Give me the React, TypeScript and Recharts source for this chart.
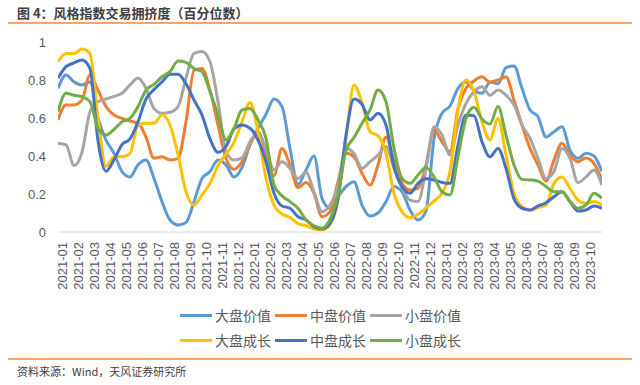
import React from "react";
import { LineChart, Line, XAxis, YAxis } from "recharts";

const months = [
  "2021-01","2021-02","2021-03","2021-04","2021-05","2021-06","2021-07","2021-08","2021-09","2021-10","2021-11","2021-12",
  "2022-01","2022-02","2022-03","2022-04","2022-05","2022-06","2022-07","2022-08","2022-09","2022-10","2022-11","2022-12",
  "2023-01","2023-02","2023-03","2023-04","2023-05","2023-06","2023-07","2023-08","2023-09","2023-10",
];

const yTicks = [0, 0.2, 0.4, 0.6, 0.8, 1];

// half-month samples, starting just before 2021-01
const startOffset = -0.3;
const step = 0.5;

const largeValue = [
  0.756,0.826,0.79,0.774,0.79,0.6,0.484,0.414,0.318,0.29,0.353,0.379,0.282,0.16,0.063,0.037,0.05,0.16,0.282,0.318,
  0.379,0.353,0.29,0.34,0.46,0.546,0.62,0.7,0.66,0.44,0.25,0.326,0.4,0.177,0.125,0.186,0.239,0.265,0.142,0.084,
  0.1,0.16,0.239,0.212,0.116,0.063,0.11,0.49,0.625,0.663,0.756,0.79,0.744,0.73,0.79,0.78,0.865,0.874,0.756,0.642,
  0.607,0.5,0.528,0.554,0.43,0.388,0.414,0.4,0.318,
];
const midValue = [
  0.59,0.668,0.668,0.695,0.826,0.747,0.66,0.616,0.598,0.584,0.572,0.5,0.388,0.396,0.379,0.388,0.58,0.85,0.86,0.747,
  0.563,0.388,0.33,0.37,0.46,0.528,0.414,0.296,0.44,0.353,0.233,0.26,0.204,0.08,0.107,0.265,0.414,0.396,0.309,0.247,
  0.353,0.5,0.37,0.256,0.221,0.23,0.353,0.537,0.475,0.423,0.65,0.756,0.795,0.817,0.788,0.8,0.817,0.695,0.563,0.44,
  0.353,0.268,0.379,0.467,0.405,0.37,0.39,0.361,0.274,
];
const smallValue = [
  0.467,0.458,0.35,0.42,0.633,0.686,0.7,0.714,0.73,0.774,0.81,0.756,0.65,0.625,0.63,0.66,0.81,0.94,0.95,0.896,
  0.686,0.423,0.379,0.39,0.475,0.52,0.44,0.326,0.37,0.335,0.282,0.314,0.212,0.107,0.142,0.247,0.44,0.414,0.335,0.37,
  0.405,0.45,0.335,0.233,0.168,0.16,0.33,0.554,0.51,0.405,0.563,0.677,0.739,0.765,0.72,0.747,0.72,0.668,0.563,0.493,
  0.388,0.282,0.318,0.44,0.388,0.26,0.29,0.326,0.247,
];
const largeGrowth = [
  0.896,0.94,0.94,0.963,0.94,0.6,0.345,0.396,0.396,0.414,0.563,0.572,0.572,0.616,0.563,0.407,0.212,0.142,0.195,0.256,
  0.35,0.41,0.47,0.58,0.682,0.528,0.282,0.142,0.095,0.077,0.044,0.033,0.016,0.012,0.037,0.168,0.49,0.774,0.68,0.528,
  0.507,0.414,0.204,0.107,0.075,0.093,0.128,0.163,0.204,0.318,0.642,0.8,0.739,0.58,0.484,0.598,0.405,0.204,0.133,0.116,
  0.128,0.142,0.256,0.29,0.23,0.168,0.151,0.16,0.142,
];
const midGrowth = [
  0.81,0.87,0.89,0.905,0.86,0.48,0.32,0.38,0.46,0.49,0.58,0.7,0.75,0.79,0.83,0.83,0.78,0.695,0.616,0.49,
  0.42,0.45,0.542,0.563,0.546,0.484,0.37,0.204,0.137,0.125,0.08,0.063,0.028,0.016,0.046,0.177,0.51,0.7,0.672,0.59,
  0.625,0.563,0.344,0.239,0.204,0.256,0.28,0.274,0.261,0.256,0.458,0.616,0.612,0.475,0.396,0.44,0.335,0.174,0.125,0.116,
  0.137,0.154,0.186,0.212,0.16,0.11,0.116,0.137,0.125,
];
const smallGrowth = [
  0.633,0.73,0.72,0.712,0.686,0.546,0.51,0.54,0.58,0.598,0.66,0.747,0.777,0.817,0.844,0.9,0.893,0.86,0.844,0.739,
  0.616,0.484,0.546,0.642,0.65,0.59,0.493,0.247,0.19,0.16,0.125,0.063,0.032,0.02,0.068,0.195,0.43,0.497,0.572,0.642,
  0.747,0.686,0.44,0.282,0.256,0.3,0.339,0.29,0.212,0.195,0.396,0.598,0.656,0.595,0.568,0.66,0.51,0.353,0.277,0.274,
  0.268,0.239,0.212,0.212,0.16,0.125,0.142,0.204,0.177,
];

const seriesNames = ["大盘价值", "中盘价值", "小盘价值", "大盘成长", "中盘成长", "小盘成长"];
const seriesColors = ["#5B9BD5", "#ED7D31", "#A5A5A5", "#FFC000", "#4472C4", "#70AD47"];
const seriesValues = [largeValue, midValue, smallValue, largeGrowth, midGrowth, smallGrowth];

const data = largeValue.map((_, i) => {
  const row: Record<string, number> = { x: startOffset + i * step };
  seriesValues.forEach((arr, k) => {
    row["s" + k] = arr[i];
  });
  return row;
});

const tickFont = "'Liberation Sans', 'Noto Sans CJK SC', sans-serif";
const cjkFont = "'Noto Sans CJK SC', 'Liberation Sans', sans-serif";

const XTick = (props: any) => {
  const { x, y, payload } = props;
  const label = months[payload.value] ?? "";
  return (
    <text
      x={x}
      y={y}
      transform={`rotate(-90 ${x} ${y})`}
      textAnchor="end"
      dy="0.35em"
      fontSize={13}
      fill="#595959"
      fontFamily={tickFont}
    >
      {label}
    </text>
  );
};

export default function App() {
  return (
    <div style={{ position: "relative", width: 640, height: 385, background: "#fff", overflow: "hidden" }}>
      <style>{"body{margin:0;}"}</style>
      <div
        style={{
          position: "absolute",
          left: 17,
          top: 3,
          fontSize: 13,
          fontWeight: "bold",
          color: "#404040",
          fontFamily: cjkFont,
          whiteSpace: "nowrap",
        }}
      >
        图 4：风格指数交易拥挤度（百分位数）
      </div>
      <div style={{ position: "absolute", left: 8, top: 22, width: 624, height: 2, background: "#F4A56E" }} />
      <div style={{ position: "absolute", left: 0, top: 0 }}>
        <LineChart width={640} height={385} data={data} margin={{ top: 42, right: 38, left: 0, bottom: 93 }}>
          <XAxis
            dataKey="x"
            type="number"
            domain={[startOffset, startOffset + (largeValue.length - 1) * step]}
            ticks={months.map((_, i) => i)}
            interval={0}
            tick={<XTick />}
            tickLine={false}
            tickSize={0}
            tickMargin={10}
            height={60}
            axisLine={{ stroke: "#D9D9D9", strokeWidth: 1 }}
            allowDataOverflow
          />
          <YAxis
            type="number"
            domain={[0, 1]}
            ticks={yTicks}
            interval={0}
            width={58}
            axisLine={false}
            tickLine={false}
            tickSize={0}
            tickMargin={12}
            tickFormatter={(v: number) => String(Math.round(v * 10) / 10)}
            tick={{ fontSize: 13, fill: "#595959", fontFamily: tickFont }}
          />
          {seriesValues.map((_, k) => (
            <Line
              key={k}
              type="monotone"
              dataKey={"s" + k}
              name={seriesNames[k]}
              stroke={seriesColors[k]}
              strokeWidth={3}
              dot={false}
              isAnimationActive={false}
            />
          ))}
        </LineChart>
      </div>
      {[0, 1].map((row) => (
        <div key={row} style={{ position: "absolute", left: 180, top: 305 + row * 25, display: "flex", height: 20 }}>
          {[0, 1, 2].map((c) => {
            const k = row * 3 + c;
            return (
              <div key={c} style={{ display: "flex", alignItems: "center", width: 95 }}>
                <div style={{ width: 32, height: 3, background: seriesColors[k] }} />
                <span
                  style={{
                    marginLeft: 3,
                    fontSize: 14,
                    color: "#595959",
                    fontFamily: cjkFont,
                    whiteSpace: "nowrap",
                  }}
                >
                  {seriesNames[k]}
                </span>
              </div>
            );
          })}
        </div>
      ))}
      <div style={{ position: "absolute", left: 8, top: 358, width: 624, height: 2, background: "#F4A56E" }} />
      <div
        style={{
          position: "absolute",
          left: 17,
          top: 363,
          fontSize: 11,
          color: "#404040",
          fontFamily: cjkFont,
          whiteSpace: "nowrap",
        }}
      >
        资料来源：Wind，天风证券研究所
      </div>
    </div>
  );
}
